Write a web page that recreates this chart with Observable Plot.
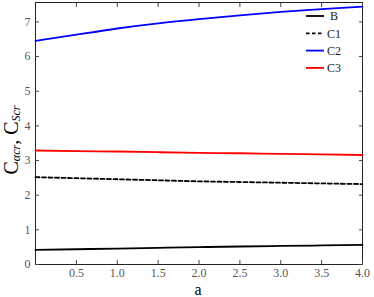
<!DOCTYPE html>
<html><head><meta charset="utf-8">
<script src="https://cdn.jsdelivr.net/npm/d3@7"></script>
<script src="https://cdn.jsdelivr.net/npm/@observablehq/plot@0.6"></script>
<style>body{margin:0;background:#fff} svg text{font-family:"Liberation Serif","DejaVu Serif","Times New Roman",serif !important}</style>
</head><body><div id="chart"></div>
<script>
const aValues = [0, 0.5, 1.0, 1.5, 2.0, 2.5, 3.0, 3.5, 4.0];
const B  = [0.42, 0.44, 0.46, 0.48, 0.50, 0.52, 0.535, 0.55, 0.565];
const C1 = [2.52, 2.49, 2.46, 2.43, 2.40, 2.38, 2.36, 2.34, 2.32];
const C2 = [6.45, 6.63, 6.81, 6.96, 7.08, 7.19, 7.29, 7.37, 7.44];
const C3 = [3.29, 3.27, 3.26, 3.24, 3.22, 3.21, 3.19, 3.18, 3.16];
const seriesNames = ["B", "C1", "C2", "C3"];
const seriesColors = ["#000000", "#000000", "#0000ff", "#ff0000"];
const seriesDash = ["none", "4,2.5", "none", "none"];
const xTicks = [0.5, 1.0, 1.5, 2.0, 2.5, 3.0, 3.5, 4.0];
const yTicks = [0, 1, 2, 3, 4, 5, 6, 7];

const allSeries = [B, C1, C2, C3];
const rows = allSeries.flatMap((vals, s) => vals.map((v, i) => ({a: aValues[i], v, s: seriesNames[s]})));

const font = "'Liberation Serif', 'DejaVu Serif', serif";

const plot = Plot.plot({
  width: 374, height: 297,
  marginLeft: 35, marginRight: 12, marginTop: 2, marginBottom: 33,
  style: {fontFamily: font, fontSize: "11px", background: "#fff"},
  x: {domain: [0, 4], label: null},
  y: {domain: [0, 7.56], label: null},
  marks: [
    Plot.frame({stroke: "#222", strokeWidth: 1}),
    Plot.axisX(xTicks, {anchor: "bottom", tickSize: -4, tickPadding: 8, tickFormat: d => d.toFixed(1), fill: "#555", stroke: "#444", fontSize: 12, label: null}),
    Plot.axisX(xTicks, {anchor: "top", tickSize: -4, tickFormat: null, text: null, stroke: "#444", label: null}),
    Plot.axisY(yTicks, {anchor: "left", tickSize: -4, tickPadding: 9, tickFormat: d => String(d), fill: "#555", stroke: "#444", fontSize: 12, label: null}),
    Plot.axisY(yTicks, {anchor: "right", tickSize: -4, tickFormat: null, text: null, stroke: "#444", label: null}),
    ...seriesNames.map((name, k) => Plot.line(rows.filter(r => r.s === name), {
      x: "a", y: "v", curve: "natural",
      stroke: seriesColors[k], strokeWidth: 1.8, strokeDasharray: seriesDash[k]
    }))
  ]
});

const svg = d3.select(plot);
// Legend
const lg = svg.append("g").attr("transform", "translate(306,16)");
seriesNames.forEach((name, k) => {
  const g = lg.append("g").attr("transform", `translate(0,${k * 17.3})`);
  g.append("line").attr("x1", 0).attr("x2", 18).attr("y1", 0).attr("y2", 0)
    .attr("stroke", seriesColors[k]).attr("stroke-width", 1.8)
    .attr("stroke-dasharray", seriesDash[k] === "none" ? null : "3.5,2.5");
  g.append("text").attr("x", 28).attr("y", 0).attr("dy", "0.35em")
    .attr("font-size", 12).attr("fill", "#222").text(name);
});
// Axis titles
svg.append("text").attr("x", 198).attr("y", 295).attr("text-anchor", "middle")
  .attr("font-size", 16).attr("fill", "#000").text("a");
const yl = svg.append("text").attr("transform", "translate(18,140) rotate(-90)")
  .attr("text-anchor", "middle").attr("font-size", 20).attr("fill", "#000");
yl.append("tspan").text("C");
yl.append("tspan").attr("font-size", 12).attr("font-style", "italic").attr("dy", 2).text("αcr");
yl.append("tspan").attr("dy", -2).text(", C");
yl.append("tspan").attr("font-size", 12).attr("font-style", "italic").attr("dy", 2).text("Scr");

document.getElementById("chart").appendChild(plot);
</script>
</body></html>
